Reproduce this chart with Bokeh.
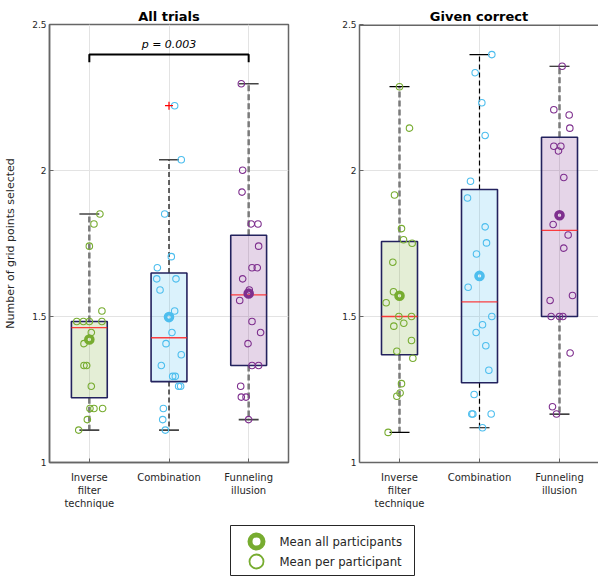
from bokeh.plotting import figure
from bokeh.layouts import column, row
from bokeh.models import FixedTicker, Range1d, Span
from bokeh.core.properties import value
from bokeh.embed import file_html
from bokeh.resources import INLINE

FONT = "DejaVu Sans"
TXT = "#262626"

categories = ["Inverse\nfilter\ntechnique", "Combination", "Funneling\nillusion"]
colors = ["#77ac30", "#4dbeee", "#7e2f8e"]
y_ticks = [1, 1.5, 2, 2.5]
y_tick_labels = ["1", "1.5", "2", "2.5"]

# ---------------- All trials ----------------
all_inv = [1.851, 1.817, 1.741, 1.519, 1.483, 1.483, 1.483, 1.483, 1.445, 1.407,
           1.332, 1.332, 1.261, 1.185, 1.185, 1.185, 1.147, 1.111]
all_inv_jit = [0.133, 0.058, 0.0, 0.158, -0.158, -0.075, 0.0, 0.158, 0.025, -0.067,
               -0.067, -0.033, 0.025, 0.008, 0.058, 0.167, -0.025, -0.133]
all_comb = [2.222, 2.037, 1.851, 1.705, 1.667, 1.629, 1.629, 1.591, 1.519, 1.445,
            1.407, 1.369, 1.332, 1.295, 1.295, 1.261, 1.261, 1.185, 1.147, 1.111]
all_comb_jit = [0.071, 0.154, -0.054, 0.029, -0.146, -0.154, 0.0875, -0.1125, 0.071, 0.0375,
                -0.0375, 0.154, -0.096, 0.046, 0.079, 0.121, 0.146, -0.071, -0.079, -0.046]
all_fun = [2.297, 2.001, 1.926, 1.817, 1.817, 1.741, 1.667, 1.667, 1.629, 1.591,
           1.555, 1.483, 1.445, 1.407, 1.332, 1.332, 1.261, 1.224, 1.224, 1.147]
all_fun_jit = [-0.092, -0.075, -0.083, 0.033, 0.117, 0.125, 0.042, 0.108, -0.075, 0.008,
               -0.1125, 0.042, 0.15, -0.008, 0.042, 0.125, -0.1, -0.092, -0.033, 0.0]
all_q1 = [1.222, 1.277, 1.332]
all_median = [1.462, 1.427, 1.574]
all_q3 = [1.483, 1.649, 1.778]
all_lower = [1.111, 1.111, 1.147]
all_upper = [1.851, 2.037, 2.297]
all_mean = [1.421, 1.498, 1.579]
all_outlier_cat = [2]
all_outlier_val = [2.222]
sig_pair = [1, 3]
sig_text = "p = 0.003"

# ---------------- Given correct ----------------
cor_inv = [2.287, 2.145, 1.916, 1.801, 1.763, 1.751, 1.686, 1.585, 1.547, 1.5,
           1.5, 1.467, 1.477, 1.418, 1.381, 1.357, 1.270, 1.238, 1.227, 1.103]
cor_inv_jit = [0.0, 0.125, -0.0625, 0.025, 0.05, 0.158, -0.083, -0.075, -0.167, -0.008,
               0.15, -0.071, 0.054, 0.15, -0.033, 0.167, 0.025, 0.008, -0.033, -0.142]
cor_comb = [2.397, 2.335, 2.232, 2.120, 1.963, 1.906, 1.807, 1.752, 1.714, 1.600,
            1.5, 1.472, 1.445, 1.400, 1.316, 1.233, 1.166, 1.166, 1.166, 1.119]
cor_comb_jit = [0.154, -0.054, 0.029, 0.071, -0.1125, -0.15, 0.071, 0.0875, -0.0375, -0.142,
                0.154, 0.0375, -0.042, 0.079, 0.117, -0.067, -0.096, -0.083, 0.146, 0.0375]
cor_fun = [2.357, 2.208, 2.190, 2.145, 2.083, 2.083, 2.067, 1.976, 1.815, 1.779,
           1.734, 1.572, 1.555, 1.5, 1.5, 1.5, 1.375, 1.191, 1.166]
cor_fun_jit = [0.033, -0.071, 0.121, 0.129, -0.071, 0.017, -0.0125, 0.054, -0.079, 0.108,
               0.054, 0.1625, -0.117, -0.104, 0.0, 0.042, 0.133, -0.0875, -0.0375]
cor_q1 = [1.369, 1.273, 1.5]
cor_median = [1.5, 1.550, 1.795]
cor_q3 = [1.757, 1.935, 2.114]
cor_lower = [1.103, 1.119, 1.166]
cor_upper = [2.287, 2.397, 2.357]
cor_mean = [1.571, 1.639, 1.847]

legend_labels = ["Mean all participants", "Mean per participant"]

BOX_HALF = 0.225
CAP_HALF = 0.125


def style_axes(p, ylabel=None):
    p.xaxis.ticker = FixedTicker(ticks=[1, 2, 3])
    p.xaxis.major_label_overrides = {i + 1: c for i, c in enumerate(categories)}
    p.yaxis.ticker = FixedTicker(ticks=y_ticks)
    p.yaxis.major_label_overrides = dict(zip(y_ticks, y_tick_labels))
    for ax in (p.xaxis[0], p.yaxis[0]):
        ax.major_tick_in = 4
        ax.major_tick_out = 0
        ax.minor_tick_line_color = None
        ax.axis_line_color = "#666666"
        ax.axis_line_width = 1.5
        ax.major_tick_line_color = "#666666"
        ax.major_label_text_font = FONT
        ax.major_label_text_color = TXT
    p.xaxis.major_label_text_font_size = "10px"
    p.xaxis.major_label_standoff = 9
    p.yaxis.major_label_text_font_size = "9px"
    p.yaxis.major_label_standoff = 3
    if ylabel:
        p.yaxis.axis_label = ylabel
        p.yaxis.axis_label_text_font = FONT
        p.yaxis.axis_label_text_font_size = "11px"
        p.yaxis.axis_label_text_font_style = "normal"
        p.yaxis.axis_label_text_color = TXT
        p.yaxis.axis_label_standoff = 12
    p.xgrid.ticker = FixedTicker(ticks=[1, 2, 3])
    p.ygrid.ticker = FixedTicker(ticks=y_ticks)
    p.grid.grid_line_color = "#e3e3e3"
    p.grid.grid_line_width = 1
    p.title.text_font = FONT
    p.title.text_font_size = "13px"
    p.title.text_font_style = "bold"
    p.title.text_color = "black"
    p.title.align = "center"
    p.title.standoff = 2


def draw_panel(p, vals, jits, q1, med, q3, lo, hi, means, cap_color, cap_width):
    for i, (v, j) in enumerate(zip(vals, jits)):
        c = i + 1
        col = colors[i]
        if i == 1:
            wcol, wwid, wdash = "black", 1.2, "5 3"
        else:
            wcol, wwid, wdash = "#7a7a7a", 2.5, "6 3"
        # whiskers
        p.segment(x0=[c, c], y0=[q3[i], q1[i]], x1=[c, c], y1=[hi[i], lo[i]],
                  line_color=wcol, line_width=wwid, line_dash=wdash)
        # box
        p.quad(left=[c - BOX_HALF], right=[c + BOX_HALF], bottom=[q1[i]], top=[q3[i]],
               fill_color=col, fill_alpha=0.2, line_color="#23225e", line_width=1.6)
        # median
        p.segment(x0=[c - BOX_HALF], y0=[med[i]], x1=[c + BOX_HALF], y1=[med[i]],
                  line_color="#ff2020", line_width=1.4, line_alpha=0.85)
        # caps
        p.segment(x0=[c - CAP_HALF, c - CAP_HALF], y0=[hi[i], lo[i]],
                  x1=[c + CAP_HALF, c + CAP_HALF], y1=[hi[i], lo[i]],
                  line_color=cap_color, line_width=cap_width)
        # participants
        p.scatter(x=[c + jj for jj in j], y=v, marker="circle", size=6.5,
                  fill_color=None, line_color=col, line_width=1.1)
        # mean
        p.scatter(x=[c], y=[means[i]], marker="circle", size=7,
                  fill_color=None, line_color=col, line_width=3.6)


# ---------------- Left panel ----------------
p1 = figure(width=300, height=518, x_range=Range1d(0.5, 3.5), y_range=Range1d(1, 2.5),
            output_backend="svg", toolbar_location=None, title="All trials",
            min_border_left=49, min_border_right=12, min_border_top=24, min_border_bottom=56)
p1.outline_line_color = "#666666"
p1.outline_line_width = 1.5
style_axes(p1, "Number of grid points selected")
draw_panel(p1, [all_inv, all_comb, all_fun], [all_inv_jit, all_comb_jit, all_fun_jit],
           all_q1, all_median, all_q3, all_lower, all_upper, all_mean, "#444444", 1.6)
p1.scatter(x=all_outlier_cat, y=all_outlier_val, marker="cross", size=8,
           line_color="#ff0000", line_width=1.2)
# significance bracket
top = 2.397
tick = 2.371
p1.line(x=[sig_pair[0], sig_pair[0], sig_pair[1], sig_pair[1]], y=[tick, top, top, tick],
        line_color="black", line_width=2)
p1.text(x=[(sig_pair[0] + sig_pair[1]) / 2], y=[2.41], text=[sig_text],
        text_align="center", text_baseline="bottom", text_font=value(FONT),
        text_font_size="11px", text_font_style="italic", text_color="black")

# ---------------- Right panel ----------------
p2 = figure(width=298, height=518, x_range=Range1d(0.5, 3.4875), y_range=Range1d(1, 2.5),
            output_backend="svg", toolbar_location=None, title="Given correct",
            min_border_left=59, min_border_right=0, min_border_top=24, min_border_bottom=56)
p2.outline_line_color = None
style_axes(p2)
p2.add_layout(Span(location=2.5, dimension="width", line_color="#666666", line_width=3))
draw_panel(p2, [cor_inv, cor_comb, cor_fun], [cor_inv_jit, cor_comb_jit, cor_fun_jit],
           cor_q1, cor_median, cor_q3, cor_lower, cor_upper, cor_mean, "black", 1.2)

# ---------------- Legend ----------------
p3 = figure(width=598, height=59, x_range=Range1d(0, 598), y_range=Range1d(59, 0),
            x_axis_type=None, y_axis_type=None, output_backend="svg", toolbar_location=None,
            min_border=0, outline_line_color=None)
p3.quad(left=[230], right=[414], top=[7], bottom=[57], fill_color="white",
        line_color=TXT, line_width=1)
p3.scatter(x=[256], y=[23], marker="circle", size=13, fill_color=None,
           line_color=colors[0], line_width=5)
p3.scatter(x=[256], y=[43], marker="circle", size=14, fill_color=None,
           line_color=colors[0], line_width=1.8)
p3.text(x=[279, 279], y=[23, 43], text=legend_labels, text_baseline="middle",
        text_font=value(FONT), text_font_size="11.7px", text_color=TXT)

layout = column(row(p1, p2), p3)
open("out.html", "w").write(file_html(layout, INLINE))
